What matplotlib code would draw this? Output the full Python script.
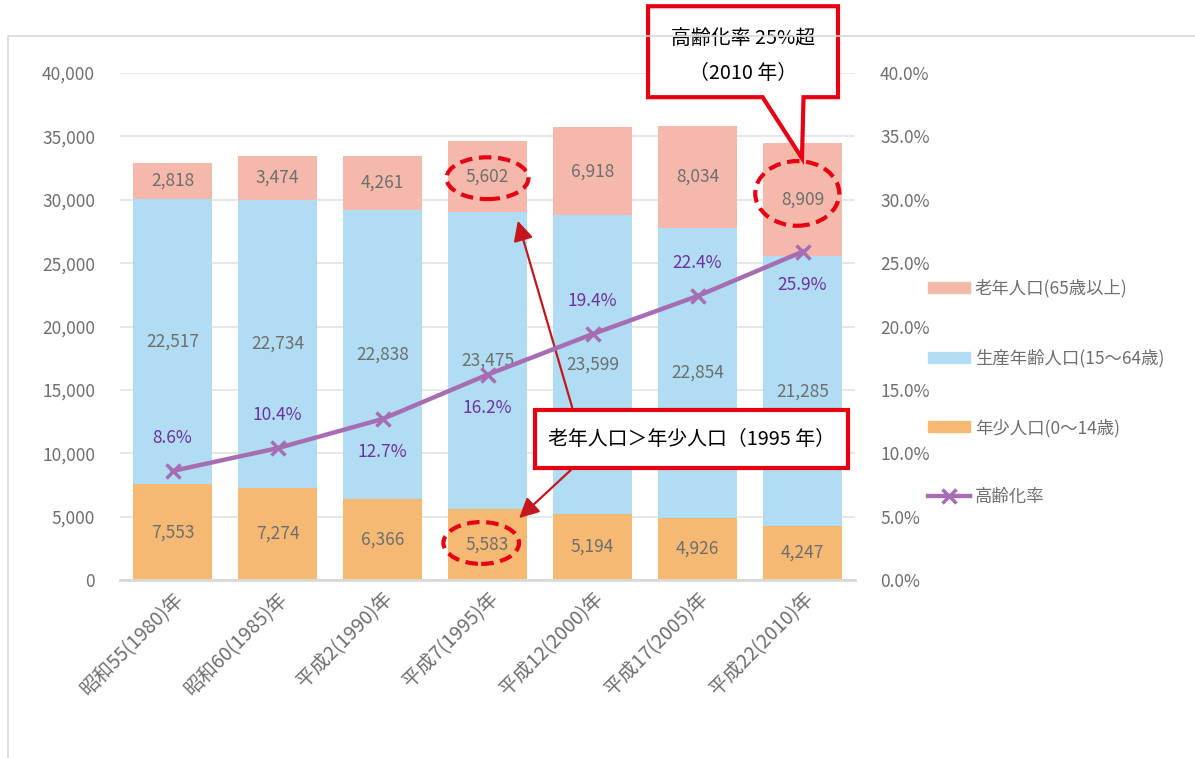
import matplotlib.pyplot as plt
import numpy as np
from matplotlib.patches import Ellipse, Polygon, Rectangle, Patch
from matplotlib.lines import Line2D
from matplotlib.ticker import FuncFormatter

plt.rcParams['font.family'] = ['Noto Sans CJK JP', 'DejaVu Sans']

years = ['昭和55(1980)年', '昭和60(1985)年', '平成2(1990)年', '平成7(1995)年',
         '平成12(2000)年', '平成17(2005)年', '平成22(2010)年']
young = [7553, 7274, 6366, 5583, 5194, 4926, 4247]
working = [22517, 22734, 22838, 23475, 23599, 22854, 21285]
old = [2818, 3474, 4261, 5602, 6918, 8034, 8909]
rate = [8.6, 10.4, 12.7, 16.2, 19.4, 22.4, 25.9]
rate_above = [True, True, False, False, True, True, False]

c_old = '#f5b9ab'
c_work = '#b0ddf3'
c_young = '#f5b974'
c_line = '#a66db3'
c_red = '#e60012'
c_gray = '#6e6e6e'

fig = plt.figure(figsize=(11.95, 7.58), dpi=100)
fig.patches.append(Rectangle((8 / 1195, -0.01), 1.1, 1 - 36 / 758 + 0.01, transform=fig.transFigure,
                             fill=False, ec='#d9d9d9', lw=1.2))
ax = fig.add_axes([120 / 1195, 1 - 580 / 758, 735 / 1195, 507 / 758])
ax2 = ax.twinx()

x = np.arange(len(years))
w = 0.76
young_a = np.array(young)
work_a = np.array(working)
old_a = np.array(old)
ax.bar(x, young_a, w, color=c_young, zorder=2)
ax.bar(x, work_a, w, bottom=young_a, color=c_work, zorder=2)
ax.bar(x, old_a, w, bottom=young_a + work_a, color=c_old, zorder=2)

for i in x:
    ax.text(i, young_a[i] / 2, f'{young[i]:,}', ha='center', va='center', fontsize=12.5, color=c_gray, zorder=4)
    ax.text(i, young_a[i] + work_a[i] / 2, f'{working[i]:,}', ha='center', va='center', fontsize=12.5,
            color=c_gray, zorder=4)
    ax.text(i, young_a[i] + work_a[i] + old_a[i] / 2, f'{old[i]:,}', ha='center', va='center', fontsize=12.5,
            color=c_gray, zorder=4)

ax.set_ylim(0, 40000)
ax.set_xlim(-0.5, 6.5)
ax.set_yticks(np.arange(0, 40001, 5000))
ax.yaxis.set_major_formatter(FuncFormatter(lambda v, p: f'{int(v):,}'))
ax.grid(axis='y', color='#e3e3e3', lw=1.2, zorder=0)
ax.set_axisbelow(True)
for s in ['top', 'right', 'left']:
    ax.spines[s].set_visible(False)
ax.spines['bottom'].set_color('#d9d9d9')
ax.spines['bottom'].set_linewidth(2)
ax.tick_params(axis='y', length=0, pad=18, labelsize=12.5, labelcolor=c_gray)
ax.tick_params(axis='x', length=0, pad=6, labelsize=14, labelcolor=c_gray)
ax.set_xticks(x)
ax.set_xticklabels(years, rotation=45, ha='right', rotation_mode='anchor')

ax2.plot(x, rate, color=c_line, lw=3.2, marker='x', ms=10, mew=2.5, zorder=5)
ax2.set_ylim(0, 40)
ax2.set_yticks(np.arange(0, 41, 5))
ax2.yaxis.set_major_formatter(FuncFormatter(lambda v, p: f'{v:.1f}%'))
ax2.tick_params(axis='y', length=0, pad=18, labelsize=12.5, labelcolor=c_gray)
for s in ['top', 'right', 'left', 'bottom']:
    ax2.spines[s].set_visible(False)
for i in x:
    dy = 2.6 if rate_above[i] else -2.6
    ax2.text(i, rate[i] + dy, f'{rate[i]:.1f}%', ha='center', va='center', fontsize=12.5, color='#7030a0')

# dashed ellipses
for cx, cy, ew, eh in [(3.0, 31700, 0.78, 3300), (2.94, 2920, 0.72, 3300), (5.95, 30500, 0.8, 5100)]:
    ax.add_patch(Ellipse((cx, cy), ew, eh, fill=False, ec=c_red, lw=3, ls=(0, (3, 1.6)), zorder=6))

# callout 1995
ax.add_patch(Rectangle((3.452, 8833), 2.981, 4574, fc='white', ec=c_red, lw=3, zorder=8, clip_on=False))
ax.text(4.94, 11120, '老年人口＞年少人口（1995 年）', ha='center', va='center', fontsize=14.3,
        color='black', zorder=9)
ax.annotate('', xy=(3.281, 28549), xytext=(3.814, 13407),
            arrowprops=dict(arrowstyle='-|>', color='#c4161c', lw=1.6, mutation_scale=30), zorder=7)
ax.annotate('', xy=(3.281, 4732), xytext=(3.814, 8833),
            arrowprops=dict(arrowstyle='-|>', color='#c4161c', lw=1.6, mutation_scale=30), zorder=7)

# callout 2010
pts = [(4.529, 45268), (6.338, 45268), (6.338, 38091), (6.01, 38091), (5.995, 33281),
       (5.62, 38091), (4.529, 38091)]
ax.add_patch(Polygon(pts, closed=True, fc='white', ec=c_red, lw=3, zorder=8, clip_on=False))
ax.text(5.43, 42700, '高齢化率 25%超', ha='center', va='center', fontsize=14.3,
        color='black', zorder=9, clip_on=False)
ax.text(5.43, 39950, '（2010 年）', ha='center', va='center', fontsize=14.3,
        color='black', zorder=9, clip_on=False)

handles = [Patch(color=c_old), Patch(color=c_work), Patch(color=c_young),
           Line2D([], [], color=c_line, lw=3.2, marker='x', ms=10, mew=2.5)]
labels = ['老年人口(65歳以上)', '生産年齢人口(15〜64歳)', '年少人口(0〜14歳)', '高齢化率']
fig.legend(handles, labels, loc='upper left', bbox_to_anchor=(928 / 1195, 1 - 279 / 758), frameon=False,
           fontsize=12.5, labelcolor=c_gray, labelspacing=2.95, handlelength=2.4, handleheight=0.6,
           handletextpad=0.3, borderpad=0, borderaxespad=0)

fig.savefig('out.png', dpi=100)
